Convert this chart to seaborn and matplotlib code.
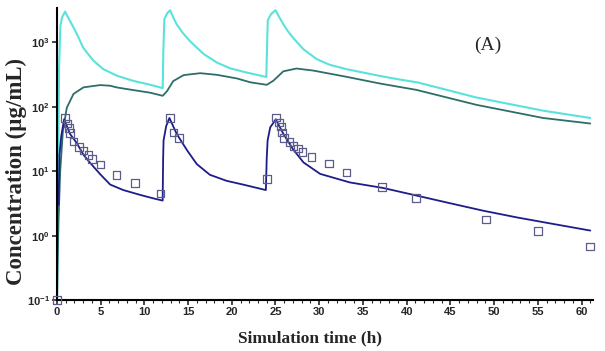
import numpy as np
import pandas as pd
import matplotlib
matplotlib.use("Agg")
import matplotlib.pyplot as plt
import seaborn as sns
from matplotlib.ticker import FixedLocator, FixedFormatter, MultipleLocator

# ---- data ----
cyan_t = [0.0, 0.12, 0.25, 0.4, 0.6, 0.95, 1.2, 1.5, 1.9, 2.3, 3.0, 3.6, 4.2, 5.3, 6.9, 8.8,
          10.7, 12.1,
          12.18, 12.3, 12.6, 12.95, 13.3, 13.7, 14.4, 15.2, 16.8, 18.3, 19.8, 21.7, 23.95,
          24.03, 24.12, 24.5, 25.0, 25.4, 25.9, 26.4, 27.0, 28.2, 29.7, 31.2, 33.1, 35.0,
          36.9, 38.9, 41.3, 48.0, 55.6, 61.0]
cyan_c = [0.05, 3, 400, 1800, 2450, 3000, 2550, 2150, 1700, 1340, 830, 650, 517, 384, 302,
          251, 219, 195,
          800, 2300, 2800, 3150, 2450, 1900, 1400, 1050, 656, 486, 395, 340, 290,
          800, 2200, 2750, 3150, 2500, 1910, 1500, 1180, 780, 550, 448, 384, 340,
          302, 269, 238, 139, 87, 67]

teal_t = [0.0, 0.07, 0.19, 0.38, 0.69, 1.14, 1.9, 3.04, 4.95, 6.1, 6.9, 8.8, 10.7, 12.1,
          12.6, 13.3, 14.5, 16.4, 18.3, 20.6, 22.1, 24.0, 24.75, 25.9, 27.4, 29.3,
          33.1, 36.9, 41.1, 48.0, 55.6, 61.0]
teal_c = [0.05, 0.29, 1.7, 10, 42, 97, 158, 200, 217, 212, 199, 181, 165, 148,
          175, 250, 310, 332, 313, 275, 240, 219, 253, 355, 392, 365,
          292, 230, 183, 107, 67, 55]

navy_t = [0.2, 0.3, 0.5, 0.83, 1.5, 2.3, 3.04, 3.8, 4.95, 6.1, 7.6, 9.5, 11.0, 12.1,
          12.15, 12.2, 12.5, 12.87, 13.7, 14.9, 16.0, 17.5, 19.4, 21.3, 23.9,
          24.0, 24.1, 24.4, 24.75, 25.03, 25.9, 27.0, 28.2, 30.1, 33.5, 37.3, 41.1,
          44.9, 48.75, 52.6, 56.4, 61.0]
navy_c = [3, 18, 35, 64, 38, 27, 18, 13.5, 9, 6.2, 5.1, 4.3, 3.8, 3.5,
          15, 30, 50, 67, 38, 21, 12.9, 8.8, 7.1, 6.2, 5.1,
          16, 30, 48, 56, 64, 38, 22, 13.7, 9.1, 6.7, 5.5, 4.2,
          3.2, 2.44, 1.92, 1.55, 1.2]

obs_t = [0.0, 0.95, 1.21, 1.37, 1.52, 1.9, 2.55, 3.04, 3.61, 4.0, 4.98, 6.81, 8.91, 11.84,
         12.95, 13.33, 13.94, 24.03, 25.03, 25.4, 25.63, 25.78, 26.0, 26.6, 27.04,
         27.6, 28.07, 29.1, 31.1, 33.1, 37.2, 41.1, 49.1, 55.0, 61.0]
obs_c = [0.1, 67, 55, 47, 39, 29, 24, 21, 18, 15.5, 12.7, 8.8, 6.6, 4.5,
         67, 40, 33, 7.6, 68, 57, 49.5, 40, 33, 28.7, 24.8,
         22.6, 20, 16.6, 13.2, 9.6, 5.75, 3.8, 1.77, 1.17, 0.68]

x_ticks = [0, 5, 10, 15, 20, 25, 30, 35, 40, 45, 50, 55, 60]
y_ticks = [0.1, 1, 10, 100, 1000]
y_tick_labels = [r"$10^{-1}$", r"$10^{0}$", r"$10^{1}$", r"$10^{2}$", r"$10^{3}$"]

# ---- styling ----
sns.set_style("ticks")
plt.rcParams["mathtext.fontset"] = "custom"
plt.rcParams["mathtext.rm"] = "Liberation Sans:bold"
plt.rcParams["mathtext.bf"] = "Liberation Sans:bold"
plt.rcParams["mathtext.it"] = "Liberation Sans:bold"

fig = plt.figure(figsize=(6.05, 3.51), dpi=100)
ax = fig.add_axes([0.094, 0.145, 0.886, 0.832])

cyan_df = pd.DataFrame({"t": cyan_t, "c": cyan_c})
teal_df = pd.DataFrame({"t": teal_t, "c": teal_c})
navy_df = pd.DataFrame({"t": navy_t, "c": navy_c})
obs_df = pd.DataFrame({"t": obs_t, "c": obs_c})

sns.lineplot(data=cyan_df, x="t", y="c", ax=ax, sort=False, estimator=None,
             color="#5ae2dc", linewidth=1.5)
sns.lineplot(data=teal_df, x="t", y="c", ax=ax, sort=False, estimator=None,
             color="#2e6e68", linewidth=1.3)
sns.lineplot(data=navy_df, x="t", y="c", ax=ax, sort=False, estimator=None,
             color="#1c1c8a", linewidth=1.3)
sns.scatterplot(data=obs_df, x="t", y="c", ax=ax, marker="s", s=30,
                facecolor="none", edgecolor="#5c5c8c", linewidth=0.9,
                clip_on=False, zorder=5)

ax.set_yscale("log")
ax.set_xlim(0, 61.3)
ax.set_ylim(0.1, 3400)

ax.yaxis.set_major_locator(FixedLocator(y_ticks))
ax.yaxis.set_major_formatter(FixedFormatter(y_tick_labels))
ax.yaxis.set_minor_locator(FixedLocator([]))
ax.xaxis.set_major_locator(FixedLocator(x_ticks))
ax.xaxis.set_minor_locator(MultipleLocator(1))

ax.tick_params(axis="both", which="major", direction="out", length=3.5, width=1.2,
               labelsize=8, pad=1.5)
ax.tick_params(axis="x", which="minor", direction="out", length=2, width=0.8)
for lab in ax.get_xticklabels():
    lab.set_fontfamily("Liberation Sans")
    lab.set_fontweight("bold")

for s in ["left", "bottom"]:
    ax.spines[s].set_linewidth(1.5)
    ax.spines[s].set_color("black")
sns.despine(ax=ax)

ax.set_xlabel("Simulation time (h)", fontfamily="Liberation Serif", fontweight="bold",
              fontsize=12.5)
ax.set_ylabel("Concentration (µg/mL)", fontfamily="Liberation Serif", fontweight="bold",
              fontsize=16.5)
ax.xaxis.set_label_coords(0.512, 0.058, transform=fig.transFigure)
ax.yaxis.set_label_coords(0.045, 0.51, transform=fig.transFigure)

ax.text(0.806, 0.87, "(A)", transform=fig.transFigure, ha="center", va="center",
        fontfamily="Liberation Serif", fontsize=14)

fig.savefig("out.png", dpi=100)
